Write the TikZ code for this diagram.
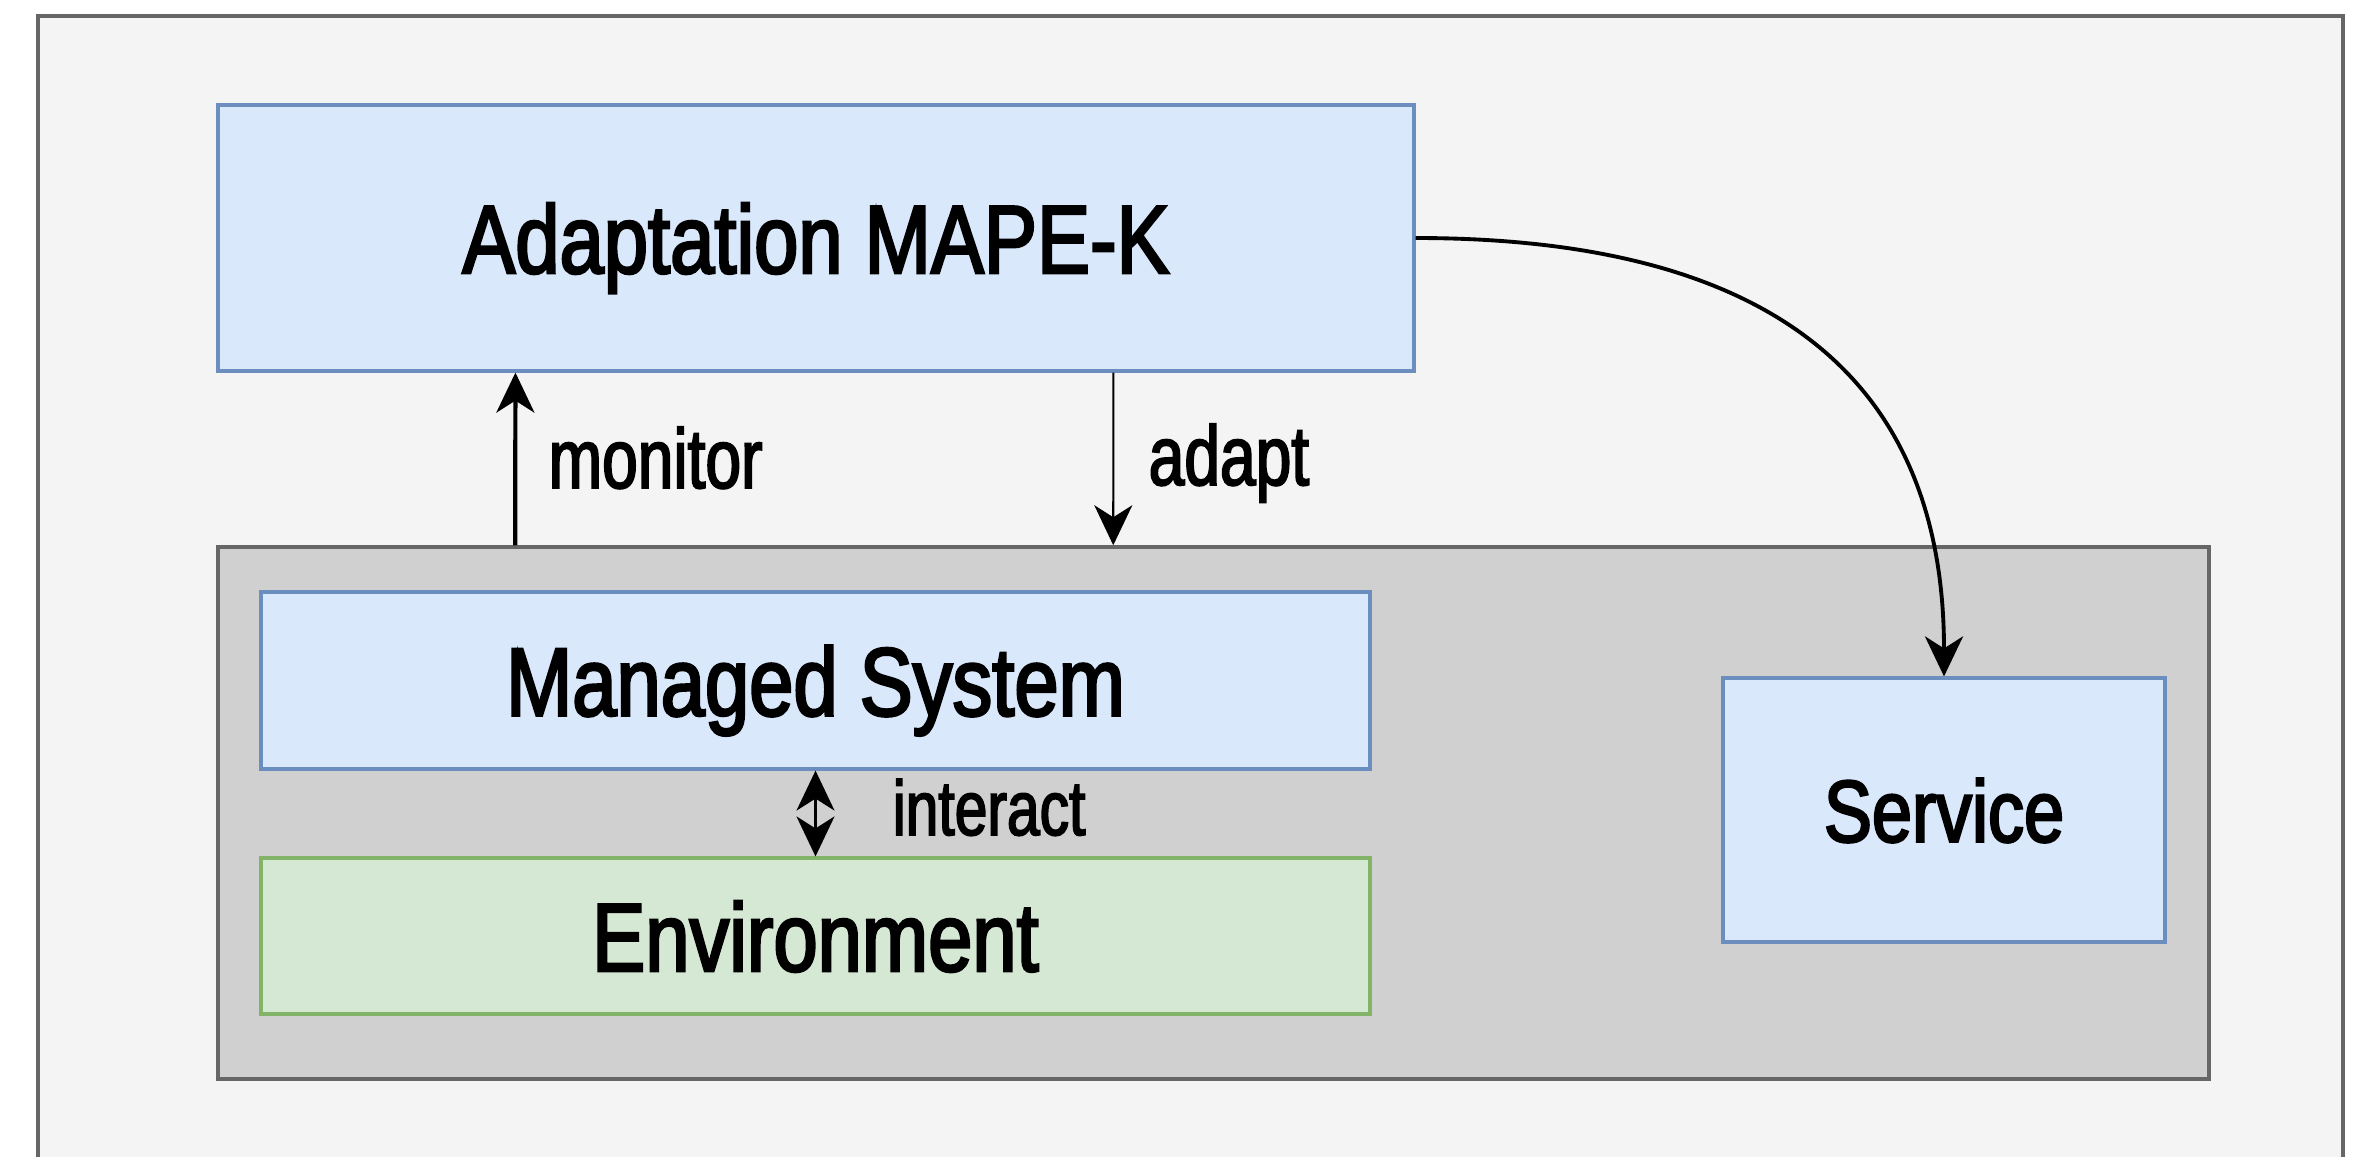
\documentclass[tikz,border=0pt]{standalone}
\usepackage{fontspec}
\newfontfamily\boxfont{Liberation Sans}[FakeStretch=0.82,FakeBold=2.6]
\newfontfamily\lblfont{Liberation Sans}[FakeStretch=0.76,FakeBold=2.2]
\usepackage{tikz}
\usetikzlibrary{arrows.meta}
\usetikzlibrary{positioning}

\definecolor{bluefill}{HTML}{DAE8FC}
\definecolor{blueline}{HTML}{6C8EBF}
\definecolor{greenfill}{HTML}{D5E8D4}
\definecolor{greenline}{HTML}{82B366}
\definecolor{layerfill}{HTML}{D0D0D0}
\definecolor{frameline}{HTML}{666666}
\definecolor{framefill}{HTML}{F4F4F4}

\begin{document}
\begin{tikzpicture}[>={Stealth[length=0.4cm,width=0.38cm,inset=0.12cm]},
                    main box/.style={rectangle,draw,line width=0.9pt,inner sep=0pt,text depth=0pt,
                                     font=\boxfont\fontsize{27.6}{33}\selectfont},
                    blue box/.style={main box,fill=bluefill,draw=blueline},
                    green box/.style={main box,fill=greenfill,draw=greenline},
                    label node/.style={inner sep=0pt,anchor=base west,font=\lblfont\fontsize{24}{29}\selectfont}]

  \useasboundingbox (0,0) rectangle (23.56,-11.57);
  \fill[framefill] (0.38,-0.16) rectangle (23.43,-11.57);
  \draw[frameline,line width=0.9pt] (0.38,-11.57) |- (23.43,-0.16) -- (23.43,-11.57);

  % managed side
  \node[main box,fill=layerfill,draw=frameline,line width=1pt,
        minimum width=19.91cm,minimum height=5.32cm] (layer) at (12.135,-8.13) {};

  \node[blue box,minimum width=11.96cm,minimum height=2.66cm] (mapek) at (8.16,-2.38) {Adaptation MAPE-K};
  \node[blue box,minimum width=11.09cm,minimum height=1.77cm] (managed) at (8.155,-6.805) {Managed System};
  \node[green box,minimum width=11.09cm,minimum height=1.56cm] (env) at (8.155,-9.36) {Environment};
  \node[blue box,minimum width=4.42cm,minimum height=2.64cm,
        font=\boxfont\fontsize{25}{30}\selectfont] (service) at (19.44,-8.10) {Service};

  \node[label node] (monitorlbl) at (5.48,-4.88) {monitor};
  \node[label node] (adaptlbl) at (11.48,-4.85) {adapt};
  \node[label node,font=\lblfont\fontsize{22}{26}\selectfont] (interactlbl) at (8.92,-8.35) {interact};

  \draw[->,line width=1.2pt] ([xshift=2.99cm]layer.north west) -- ([xshift=2.99cm]mapek.south west);
  \draw[->,line width=0.6pt] ([xshift=8.97cm]mapek.south west) -- ([xshift=8.97cm]layer.north west);
  \draw[<->,line width=0.6pt] (managed) -- (env);
  \draw[->,line width=1.1pt] (mapek.east) to[out=0,in=90,looseness=1.2] (service.north);
\end{tikzpicture}
\end{document}
